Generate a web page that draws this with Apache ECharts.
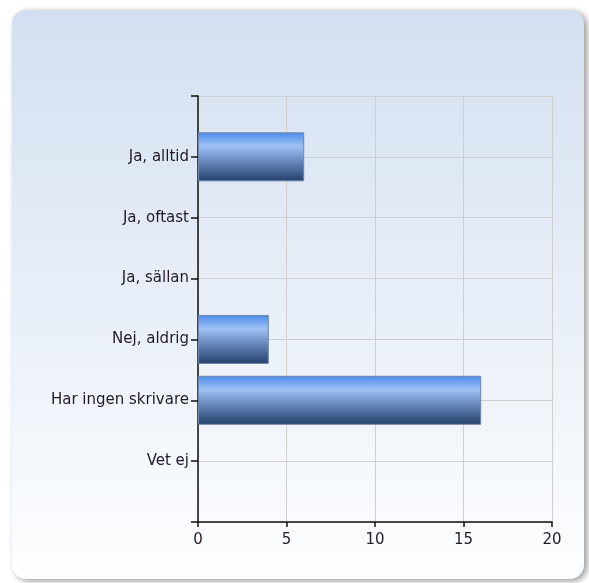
<!DOCTYPE html>
<html><head><meta charset="utf-8">
<script src="https://cdn.jsdelivr.net/npm/echarts@6/dist/echarts.min.js"></script>
<style>html,body{margin:0;padding:0;background:#fff}#c{width:589px;height:583px}</style>
</head><body><div id="c"></div>
<script>
const categories = ['', 'Ja, alltid', 'Ja, oftast', 'Ja, sällan', 'Nej, aldrig', 'Har ingen skrivare', 'Vet ej', ''];
const values = [null, 6, 0, 0, 4, 16, 0, null];
const xTicks = [0, 5, 10, 15, 20];

const chart = echarts.init(document.getElementById('c'), null, {renderer: 'canvas'});
const barGrad = new echarts.graphic.LinearGradient(0, 0, 0, 1, [
  {offset: 0, color: '#4a8aea'},
  {offset: 0.28, color: '#9fc2f6'},
  {offset: 0.55, color: '#6e8fc4'},
  {offset: 1, color: '#243f6a'}
]);
const seriesData = values.map(v => v === 0 ? {value: v, itemStyle: {borderWidth: 0}} : v);
chart.setOption({
  animation: false,
  graphic: [{
    type: 'rect', z: -10, silent: true,
    shape: {x: 12, y: 10, width: 572, height: 569, r: 14},
    style: {
      fill: new echarts.graphic.LinearGradient(0, 0, 0, 1, [
        {offset: 0, color: '#d3dff0'},
        {offset: 1, color: '#fdfeff'}
      ]),
      shadowBlur: 6, shadowColor: 'rgba(0,0,0,0.4)', shadowOffsetX: 3, shadowOffsetY: 2
    }
  }],
  grid: {left: 198, top: 96, width: 354, height: 426, containLabel: false},
  xAxis: {
    type: 'value', min: xTicks[0], max: xTicks[xTicks.length - 1], interval: 5,
    axisLine: {show: true, lineStyle: {color: '#111', width: 1.5}},
    axisTick: {show: true, length: 5, lineStyle: {color: '#111', width: 1.5}},
    axisLabel: {color: '#221a28', fontFamily: 'DejaVu Sans', fontSize: 15, margin: 11},
    splitLine: {show: true, lineStyle: {color: '#cfcfcf', width: 1}}
  },
  yAxis: {
    type: 'category', data: categories, inverse: true, boundaryGap: false,
    axisLine: {show: true, lineStyle: {color: '#111', width: 1.5}},
    axisTick: {show: true, length: 7, lineStyle: {color: '#111', width: 1.5}},
    axisLabel: {color: '#221a28', fontFamily: 'DejaVu Sans', fontSize: 15, margin: 9, interval: 0},
    splitLine: {show: true, lineStyle: {color: '#cfcfcf', width: 1}}
  },
  series: [{
    type: 'bar', data: seriesData, barWidth: 49,
    itemStyle: {color: barGrad, borderColor: '#6f86a8', borderWidth: 1}
  }]
});
</script></body></html>
